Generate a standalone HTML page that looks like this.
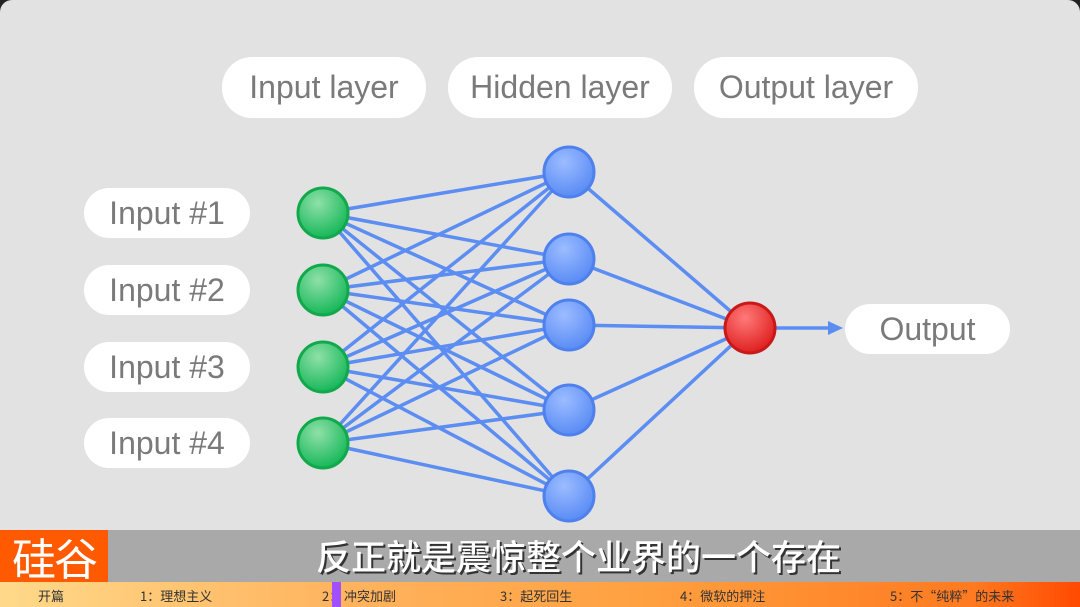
<!DOCTYPE html><html><head><style>
body{margin:0;width:1080px;height:607px;overflow:hidden;background:#222;font-family:"Liberation Sans",sans-serif}
#c{position:absolute;left:0;top:0;width:1080px;height:607px;background:#e2e2e2;border-radius:12px;overflow:hidden}
.p{position:absolute;background:#fff;border-radius:30px;color:#7a7a7a;font-size:32px;display:flex;align-items:center;justify-content:center}
#sub{position:absolute;left:0;top:530px;width:1080px;height:52px;background:#a9a9a9}
#logo{position:absolute;left:0;top:530px;width:108px;height:52px;background:#ff5a00;color:#fff;font:44px "Noto Sans CJK SC",sans-serif;line-height:52px;text-align:center;letter-spacing:-2px}
#st{position:absolute;left:316px;top:530px;height:52px;line-height:52px;color:#fff;font:500 35px "Noto Sans CJK SC",sans-serif;text-shadow:2px 2px 0 #333}
#bar{position:absolute;left:0;top:582px;width:1080px;height:25px;background:linear-gradient(90deg,#ffd98a,#ffb560 30%,#ffa040 60%,#ff7a20 90%,#ff4a00);font:13px "Noto Sans CJK SC",sans-serif;color:#333}
#bar span{position:absolute;top:4px}
</style></head><body><div id="c">
<div class="p" style="left:222px;top:57px;width:204px;height:61px">Input layer</div>
<div class="p" style="left:448px;top:57px;width:224px;height:61px">Hidden layer</div>
<div class="p" style="left:694px;top:57px;width:224px;height:61px">Output layer</div>
<div class="p" style="left:84px;top:188px;width:166px;height:50px">Input #1</div>
<div class="p" style="left:84px;top:265px;width:166px;height:50px">Input #2</div>
<div class="p" style="left:84px;top:342px;width:166px;height:50px">Input #3</div>
<div class="p" style="left:84px;top:418px;width:166px;height:50px">Input #4</div>
<div class="p" style="left:845px;top:304px;width:165px;height:50px">Output</div>
<svg width="1080" height="607" style="position:absolute;left:0;top:0">
<defs><radialGradient id="g" cx="0.4" cy="0.3" r="0.7"><stop offset="0" stop-color="#8fe0a8"/><stop offset="1" stop-color="#18b85a"/></radialGradient>
<radialGradient id="b" cx="0.4" cy="0.3" r="0.7"><stop offset="0" stop-color="#9cbcff"/><stop offset="1" stop-color="#5a8cf5"/></radialGradient>
<radialGradient id="r" cx="0.4" cy="0.3" r="0.7"><stop offset="0" stop-color="#ff7a7a"/><stop offset="1" stop-color="#e02020"/></radialGradient></defs>
<g id="L" stroke="#5b8df2" stroke-width="3.5"></g>
</svg>
</div>
<div id="sub"></div><div id="logo">硅谷</div>
<div id="st">反正就是震惊整个业界的一个存在</div>
<div id="bar"><span style="left:38px">开篇</span><span style="left:140px">1：理想主义</span><span style="left:322px">2：</span><span style="left:332px;top:0;width:9px;height:25px;background:#a050ff"></span><span style="left:344px">冲突加剧</span><span style="left:500px">3：起死回生</span><span style="left:680px">4：微软的押注</span><span style="left:890px">5：不“纯粹”的未来</span></div>
<script>
var ins=[213,290,367,443],hid=[172,259,325,410,496],s='';
ins.forEach(function(a){hid.forEach(function(h){s+='<line x1="323" y1="'+a+'" x2="569" y2="'+h+'"/>'})});
hid.forEach(function(h){s+='<line x1="569" y1="'+h+'" x2="750" y2="328"/>'});
s+='<line x1="750" y1="328" x2="830" y2="328"/><polygon points="843,328 828,321 828,335" fill="#5b8df2" stroke="none"/>';
ins.forEach(function(a){s+='<circle cx="323" cy="'+a+'" r="25" fill="url(#g)" stroke="#12a84c" stroke-width="3"/>'});
hid.forEach(function(h){s+='<circle cx="569" cy="'+h+'" r="25" fill="url(#b)" stroke="#4e80ee" stroke-width="3"/>'});
s+='<circle cx="750" cy="328" r="25" fill="url(#r)" stroke="#c81818" stroke-width="3"/>';
document.getElementById('L').innerHTML=s;
</script>
</body></html>
